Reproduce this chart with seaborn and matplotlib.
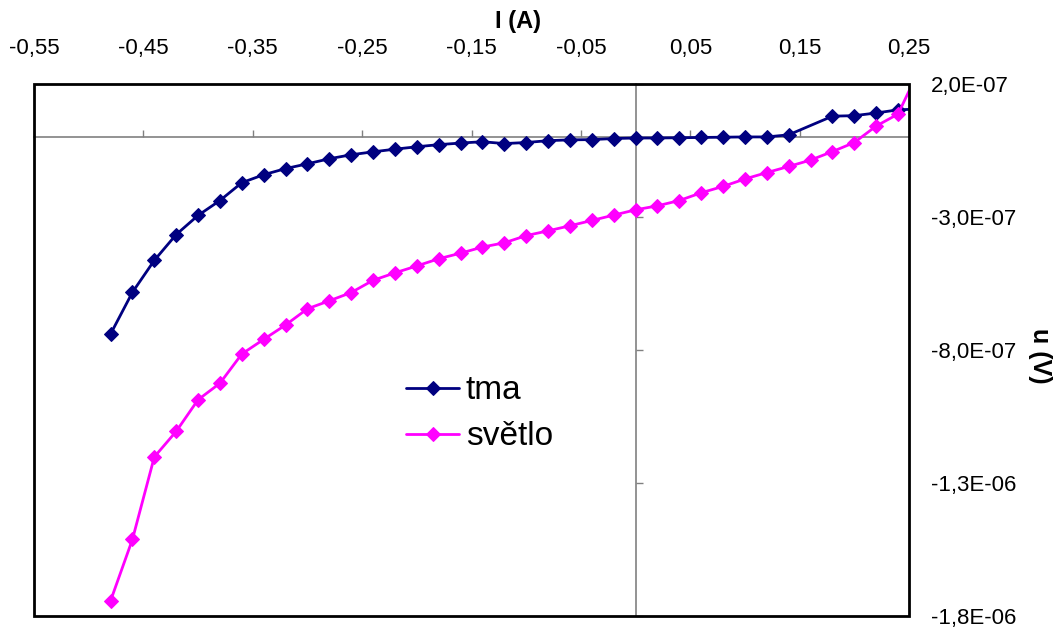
import matplotlib
matplotlib.use("Agg")
import matplotlib.pyplot as plt
import matplotlib.patches as patches
import seaborn as sns

# current I (A)
i_tma = [-0.48, -0.46, -0.44, -0.42, -0.40, -0.38, -0.36, -0.34, -0.32, -0.30,
         -0.28, -0.26, -0.24, -0.22, -0.20, -0.18, -0.16, -0.14, -0.12, -0.10,
         -0.08, -0.06, -0.04, -0.02, 0.00, 0.02, 0.04, 0.06, 0.08, 0.10,
         0.12, 0.14, 0.18, 0.20, 0.22, 0.24, 0.26]
# voltage u (V), dark
u_tma = [-7.40e-07, -5.83e-07, -4.63e-07, -3.66e-07, -2.94e-07, -2.38e-07, -1.71e-07,
         -1.41e-07, -1.18e-07, -1.00e-07, -8.1e-08, -6.6e-08, -5.5e-08, -4.5e-08,
         -3.6e-08, -2.8e-08, -2.2e-08, -1.7e-08, -2.4e-08, -2.0e-08, -1.3e-08,
         -1.0e-08, -9e-09, -5e-09, -3e-09, -3e-09, -2e-09, -1e-09, 0.0, 1e-09,
         1e-09, 9e-09, 7.9e-08, 8.1e-08, 9.1e-08, 1.03e-07, 1.06e-07]

i_svetlo = [-0.48, -0.46, -0.44, -0.42, -0.40, -0.38, -0.36, -0.34, -0.32, -0.30,
            -0.28, -0.26, -0.24, -0.22, -0.20, -0.18, -0.16, -0.14, -0.12, -0.10,
            -0.08, -0.06, -0.04, -0.02, 0.00, 0.02, 0.04, 0.06, 0.08, 0.10,
            0.12, 0.14, 0.16, 0.18, 0.20, 0.22, 0.24, 0.26]
# voltage u (V), light
u_svetlo = [-1.743e-06, -1.512e-06, -1.202e-06, -1.106e-06, -9.87e-07, -9.25e-07,
            -8.15e-07, -7.60e-07, -7.06e-07, -6.45e-07, -6.15e-07, -5.84e-07,
            -5.38e-07, -5.10e-07, -4.84e-07, -4.57e-07, -4.36e-07, -4.13e-07,
            -3.97e-07, -3.70e-07, -3.52e-07, -3.33e-07, -3.13e-07, -2.93e-07,
            -2.73e-07, -2.58e-07, -2.38e-07, -2.09e-07, -1.85e-07, -1.57e-07,
            -1.33e-07, -1.10e-07, -8.6e-08, -5.4e-08, -2.0e-08, 4.2e-08, 8.7e-08,
            2.6e-07]

x_ticks = [-0.55, -0.45, -0.35, -0.25, -0.15, -0.05, 0.05, 0.15, 0.25]
x_labels = ["-0,55", "-0,45", "-0,35", "-0,25", "-0,15", "-0,05", "0,05", "0,15", "0,25"]
y_ticks = [2.0e-07, -3.0e-07, -8.0e-07, -1.3e-06, -1.8e-06]
y_labels = ["2,0E-07", "-3,0E-07", "-8,0E-07", "-1,3E-06", "-1,8E-06"]

sns.set_style("white")
plt.rcParams["font.family"] = ["Liberation Sans", "DejaVu Sans"]

fig = plt.figure(figsize=(10.58, 6.28), dpi=100)
ax = fig.add_axes([34 / 1058, 12 / 628, 875 / 1058, 532 / 628])

sns.lineplot(x=i_tma, y=u_tma, ax=ax, color="#000080", marker="D", markersize=7,
             markeredgecolor="#000080", linewidth=2, sort=False, label="tma")
sns.lineplot(x=i_svetlo, y=u_svetlo, ax=ax, color="#FF00FF", marker="D", markersize=7,
             markeredgecolor="#FF00FF", linewidth=2, sort=False, label="světlo")

ax.set_xlim(-0.55, 0.25)
ax.set_ylim(-1.8e-06, 2.0e-07)

# axes crossing at zero
ax.spines["bottom"].set_position(("data", 0))
ax.spines["left"].set_position(("data", 0))
for s in ["bottom", "left"]:
    ax.spines[s].set_color("#808080")
    ax.spines[s].set_linewidth(1.2)
    ax.spines[s].set_zorder(0.5)
ax.spines["top"].set_visible(False)
ax.spines["right"].set_visible(False)
ax.add_patch(patches.Rectangle((0, 0), 1, 1, transform=ax.transAxes, fill=False,
                               edgecolor="black", linewidth=2, clip_on=False, zorder=3))

ax.set_xticks(x_ticks)
ax.set_xticklabels(x_labels)
ax.set_yticks(y_ticks)
ax.set_yticklabels(y_labels)
ax.tick_params(axis="x", bottom=True, top=False, labelbottom=False, labeltop=True,
               direction="in", length=5, width=1, color="#808080", pad=18,
               labelsize=16, labelcolor="black")
ax.tick_params(axis="y", left=True, right=False, labelleft=False, labelright=True,
               direction="in", length=5, width=1, color="#808080", pad=16,
               labelsize=16, labelcolor="black")

ax.xaxis.set_label_position("top")
ax.set_xlabel("I (A)", fontsize=17, fontweight="bold", color="black")
ax.xaxis.set_label_coords(0.553, 1.105)
ax.yaxis.set_label_position("right")
ax.set_ylabel("u (V)", fontsize=18, fontweight="bold", rotation=270, va="center",
              color="black")
ax.yaxis.set_label_coords(1.15, 0.49)

leg = ax.legend(loc="center left", bbox_to_anchor=(0.425, 0.38), frameon=False,
                fontsize=24, handlelength=1.6, handletextpad=0.2, labelspacing=0.45,
                borderaxespad=0, borderpad=0)
for t in leg.get_texts():
    t.set_color("black")

fig.savefig("out.png", dpi=100)
